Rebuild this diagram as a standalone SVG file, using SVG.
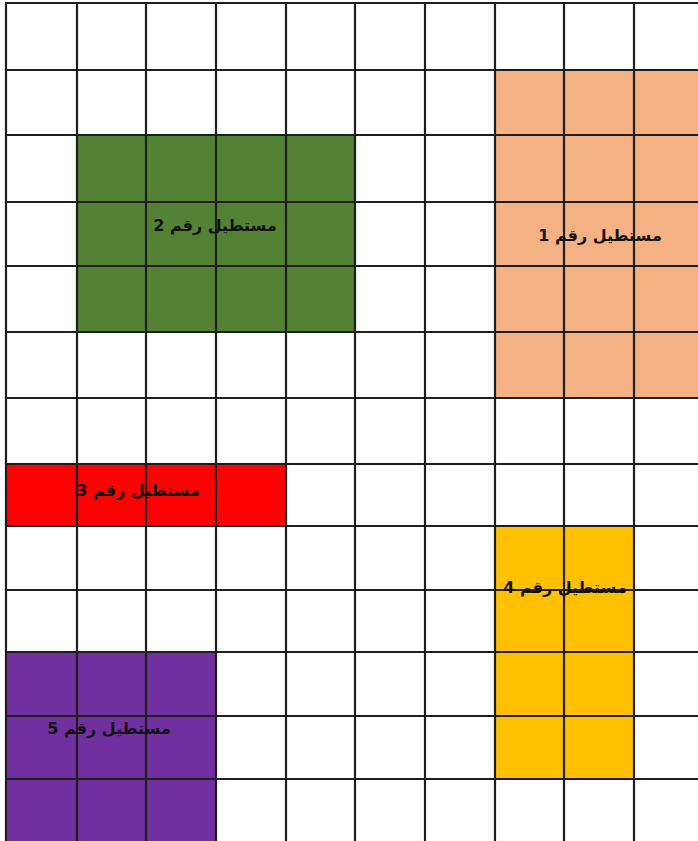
<svg xmlns="http://www.w3.org/2000/svg" width="698" height="841" viewBox="0 0 698 841">
<style>
.grid line{stroke:#1e1e1e;stroke-width:2.2}
.lbl{font-family:"DejaVu Sans","Noto Sans",sans-serif;font-weight:bold;font-size:16px;fill:#111;text-anchor:middle}
</style>
<rect width="698" height="841" fill="#ffffff"/>
<g id="rect1"><rect x="495" y="70" width="203" height="328" fill="#F4B183"/></g>
<g id="rect2"><rect x="77" y="135" width="278" height="197" fill="#548235"/></g>
<g id="rect3"><rect x="6" y="464" width="280" height="62" fill="#FF0000"/></g>
<g id="rect4"><rect x="495" y="526" width="139" height="253" fill="#FFC000"/></g>
<g id="rect5"><rect x="6" y="652" width="210" height="189" fill="#7030A0"/></g>
<g class="grid">
<line x1="6" y1="3" x2="6" y2="841"/>
<line x1="77" y1="3" x2="77" y2="841"/>
<line x1="146" y1="3" x2="146" y2="841"/>
<line x1="216" y1="3" x2="216" y2="841"/>
<line x1="286" y1="3" x2="286" y2="841"/>
<line x1="355" y1="3" x2="355" y2="841"/>
<line x1="425" y1="3" x2="425" y2="841"/>
<line x1="495" y1="3" x2="495" y2="841"/>
<line x1="564" y1="3" x2="564" y2="841"/>
<line x1="634" y1="3" x2="634" y2="841"/>
<line x1="5" y1="3" x2="698" y2="3"/>
<line x1="5" y1="70" x2="698" y2="70"/>
<line x1="5" y1="135" x2="698" y2="135"/>
<line x1="5" y1="202" x2="698" y2="202"/>
<line x1="5" y1="266" x2="698" y2="266"/>
<line x1="5" y1="332" x2="698" y2="332"/>
<line x1="5" y1="398" x2="698" y2="398"/>
<line x1="5" y1="464" x2="698" y2="464"/>
<line x1="5" y1="526" x2="698" y2="526"/>
<line x1="5" y1="590" x2="698" y2="590"/>
<line x1="5" y1="652" x2="698" y2="652"/>
<line x1="5" y1="716" x2="698" y2="716"/>
<line x1="5" y1="779" x2="698" y2="779"/>
</g>
<g id="labels">
<text class="lbl" x="600" y="241" direction="rtl">مستطيل رقم 1</text>
<text class="lbl" x="215" y="231" direction="rtl">مستطيل رقم 2</text>
<text class="lbl" x="138" y="496" direction="rtl">مستطيل رقم 3</text>
<text class="lbl" x="565" y="593" direction="rtl">مستطيل رقم 4</text>
<text class="lbl" x="109" y="734" direction="rtl">مستطيل رقم 5</text>
</g>
</svg>
